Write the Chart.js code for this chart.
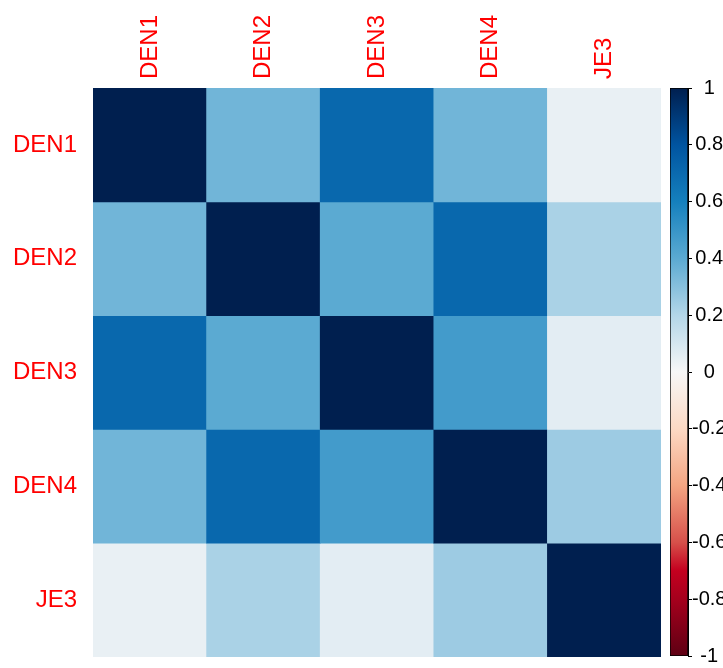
<!DOCTYPE html>
<html>
<head>
<meta charset="utf-8">
<script src="https://cdn.jsdelivr.net/npm/chart.js@4.4.1/dist/chart.umd.min.js"></script>
<style>
  html, body { margin: 0; padding: 0; background: #fff; }
  #wrap { position: relative; width: 723px; height: 668px; overflow: hidden; }
  #heat { position: absolute; left: 0; top: 0; }
  #bar { position: absolute; left: 660px; top: 0; }
</style>
</head>
<body>
<div id="wrap">
  <canvas id="heat" width="723" height="668"></canvas>
  <canvas id="bar" width="63" height="668"></canvas>
</div>
<script>
// variable names (rows top to bottom, columns left to right)
const vars = ["DEN1", "DEN2", "DEN3", "DEN4", "JE3"];

// correlation matrix rows
const den1 = [1.00, 0.35, 0.71, 0.35, 0.04];
const den2 = [0.35, 1.00, 0.40, 0.71, 0.22];
const den3 = [0.71, 0.40, 1.00, 0.47, 0.06];
const den4 = [0.35, 0.71, 0.47, 1.00, 0.25];
const je3  = [0.04, 0.22, 0.06, 0.25, 1.00];
const rows = [den1, den2, den3, den4, je3];

// colour legend ticks
const legendTicks = [1, 0.8, 0.6, 0.4, 0.2, 0, -0.2, -0.4, -0.6, -0.8, -1];
const legendLabels = ["1", "0.8", "0.6", "0.4", "0.2", "0", "-0.2", "-0.4", "-0.6", "-0.8", "-1"];

// RdBu-like palette, value -> colour
const palette = [
  [-1.0, "#5e0013"],
  [-0.8, "#a5001d"],
  [-0.7, "#c4001f"],
  [-0.6, "#d6504a"],
  [-0.4, "#f4a582"],
  [-0.2, "#fcd9c4"],
  [0.0, "#f7f7f7"],
  [0.2, "#b3d6e8"],
  [0.4, "#5baad2"],
  [0.6, "#1580bd"],
  [0.8, "#0054a0"],
  [1.0, "#001f4f"]
];

function hexToRgb(h) {
  return [parseInt(h.slice(1, 3), 16), parseInt(h.slice(3, 5), 16), parseInt(h.slice(5, 7), 16)];
}

function corrColor(v) {
  for (let i = 1; i < palette.length; i++) {
    const [v1, c1] = palette[i];
    const [v0, c0] = palette[i - 1];
    if (v <= v1) {
      const t = (v - v0) / (v1 - v0);
      const a = hexToRgb(c0), b = hexToRgb(c1);
      const mix = a.map((x, k) => Math.round(x + (b[k] - x) * t));
      return "rgb(" + mix.join(",") + ")";
    }
  }
  return palette[palette.length - 1][1];
}

const font = "'Liberation Sans', Arial, sans-serif";

// heatmap: one floating-bar dataset per row
const datasets = rows.map((row, r) => ({
  data: row.map(() => [r, r + 1]),
  backgroundColor: row.map(corrColor),
  borderWidth: 0,
  barPercentage: 1,
  categoryPercentage: 1
}));

new Chart(document.getElementById("heat"), {
  type: "bar",
  data: { labels: vars, datasets: datasets },
  options: {
    responsive: false,
    animation: false,
    layout: { padding: { top: 0, left: 0, right: 62, bottom: 11 } },
    plugins: { legend: { display: false }, tooltip: { enabled: false } },
    scales: {
      x: {
        position: "top",
        stacked: true,
        grid: { display: false, drawTicks: false },
        border: { display: false },
        ticks: {
          color: "#ff0000",
          font: { family: font, size: 24 },
          minRotation: 90,
          maxRotation: 90,
          padding: 9,
          labelOffset: 29
        },
        afterFit: (s) => { s.height = 88; s.paddingLeft = 0; s.paddingRight = 0; }
      },
      y: {
        type: "linear",
        min: 0,
        max: 5,
        reverse: true,
        grid: { display: false, drawTicks: false },
        border: { display: false },
        afterBuildTicks: (s) => { s.ticks = vars.map((v, i) => ({ value: i + 0.5 })); },
        ticks: {
          color: "#ff0000",
          font: { family: font, size: 24 },
          padding: 16,
          callback: (v) => vars[Math.floor(v)]
        },
        afterFit: (s) => { s.width = 93; s.paddingTop = 0; s.paddingBottom = 0; }
      }
    }
  }
});

// colour legend bar
new Chart(document.getElementById("bar"), {
  type: "bar",
  data: {
    labels: [""],
    datasets: [{
      data: [[-1, 1]],
      backgroundColor: (ctx) => {
        const chart = ctx.chart;
        const area = chart.chartArea;
        if (!area) return "#ffffff";
        const ys = chart.scales.y;
        const g = chart.ctx.createLinearGradient(0, ys.getPixelForValue(-1), 0, ys.getPixelForValue(1));
        palette.forEach(([v, c]) => g.addColorStop((v + 1) / 2, c));
        return g;
      },
      borderColor: "#000000",
      borderWidth: 1,
      borderSkipped: false,
      barPercentage: 1,
      categoryPercentage: 1
    }]
  },
  options: {
    responsive: false,
    animation: false,
    layout: { padding: { top: 88, left: 10, right: 0, bottom: 12 } },
    plugins: { legend: { display: false }, tooltip: { enabled: false } },
    scales: {
      x: { display: false },
      y: {
        position: "right",
        min: -1,
        max: 1,
        grid: { display: true, drawOnChartArea: false, drawTicks: true, tickLength: 4, color: "#000000" },
        border: { display: true, color: "#000000" },
        afterBuildTicks: (s) => { s.ticks = legendTicks.map((v) => ({ value: v })); },
        ticks: {
          color: "#000000",
          font: { family: font, size: 20 },
          crossAlign: "center",
          padding: 0,
          callback: (v) => legendLabels[legendTicks.indexOf(v)]
        },
        afterFit: (s) => { s.width = 35; }
      }
    }
  }
});
</script>
</body>
</html>
